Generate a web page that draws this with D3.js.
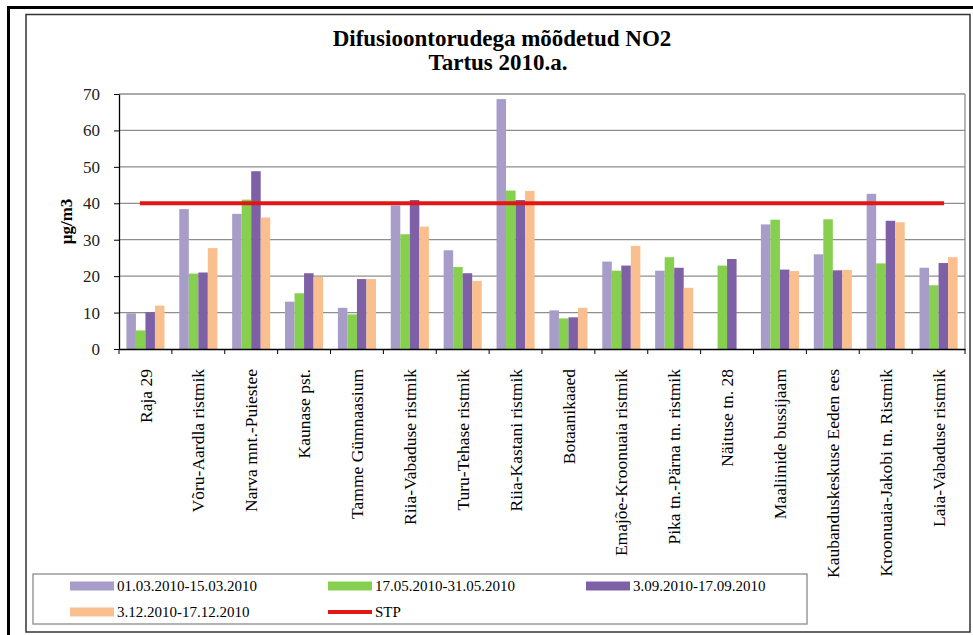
<!DOCTYPE html>
<meta charset="utf-8">
<style>
    body { margin: 0; background: #fff; }
    .grid line { stroke: #8e8e8e; stroke-width: 1.3px; }
    .xaxis path, .yaxis path { stroke: #000; stroke-width: 1.3px; }
    .xaxis line, .yaxis line { stroke: #000; }
</style>
<svg width="973" height="635"></svg>
<script src="https://d3js.org/d3.v7.min.js"></script>
<script>
    // measuring stations (x categories)
    var stations = ["Raja 29", "Võru-Aardla ristmik", "Narva mnt.-Puiestee", "Kaunase pst.",
        "Tamme Gümnaasium", "Riia-Vabaduse ristmik", "Turu-Tehase ristmik", "Riia-Kastani ristmik",
        "Botaanikaaed", "Emajõe-Kroonuaia ristmik", "Pika tn.-Pärna tn. ristmik", "Näituse tn. 28",
        "Maaliinide bussijaam", "Kaubanduskeskuse Eeden ees", "Kroonuaia-Jakobi tn. Ristmik", "Laia-Vabaduse ristmik"];

    var periods = ["01.03.2010-15.03.2010", "17.05.2010-31.05.2010", "3.09.2010-17.09.2010", "3.12.2010-17.12.2010"];

    // NO2 values, µg/m3 (null = not measured)
    var march = [9.8, 38.4, 37.1, 13.0, 11.3, 39.4, 27.1, 68.6, 10.6, 24.0, 21.5, null, 34.2, 26.0, 42.6, 22.3];
    var may   = [5.1, 20.7, 41.0, 15.3, 9.5, 31.5, 22.5, 43.5, 8.4, 21.5, 25.2, 22.9, 35.5, 35.6, 23.5, 17.5];
    var sept  = [10.1, 21.0, 48.8, 20.8, 19.2, 40.9, 20.8, 40.9, 8.7, 22.9, 22.3, 24.7, 21.8, 21.6, 35.2, 23.6];
    var dec   = [11.9, 27.7, 36.1, 19.8, 19.2, 33.6, 18.7, 43.4, 11.3, 28.3, 16.8, null, 21.4, 21.7, 34.8, 25.2];
    var stp   = [40, 40, 40, 40, 40, 40, 40, 40, 40, 40, 40, 40, 40, 40, 40, 40];

    var yTicks = [0, 10, 20, 30, 40, 50, 60, 70];
    var colours = ["#a89cc9", "#86cf4f", "#7d60a6", "#f9bf8f"];
    var stpColour = "#e31616";
    var serif = "'Liberation Serif', 'Times New Roman', serif";

    var series = [march, may, sept, dec];

    var svg = d3.select("svg");

    var plot = {left: 119, right: 965, top: 94, bottom: 349};

    // frames
    svg.append("rect")
        .attr("x", 8.5).attr("y", 7.5).attr("width", 980).attr("height", 640)
        .attr("fill", "none").attr("stroke", "#000").attr("stroke-width", 3);
    svg.append("rect")
        .attr("x", 26).attr("y", 14.5).attr("width", 944).attr("height", 617.5)
        .attr("fill", "#fff").attr("stroke", "#333").attr("stroke-width", 1.5);

    // title
    svg.append("text")
        .attr("x", 502).attr("y", 46)
        .attr("text-anchor", "middle")
        .style("font-family", serif)
        .style("font-size", "23px").style("font-weight", "bold")
        .text("Difusioontorudega mõõdetud NO2");
    svg.append("text")
        .attr("x", 498).attr("y", 70)
        .attr("text-anchor", "middle")
        .style("font-family", serif)
        .style("font-size", "23px").style("font-weight", "bold")
        .text("Tartus 2010.a.");

    var x0 = d3.scaleBand()
        .domain(stations)
        .range([plot.left, plot.right])
        .paddingInner(0.28)
        .paddingOuter(0.14);

    var x1 = d3.scaleBand()
        .domain(d3.range(periods.length))
        .range([0, x0.bandwidth()]);

    var xLine = d3.scalePoint()
        .domain(stations)
        .range([plot.left, plot.right])
        .padding(0.39);

    var y = d3.scaleLinear()
        .domain([0, 70])
        .range([plot.bottom, plot.top]);

    // grid
    svg.append("g")
        .attr("class", "grid")
        .selectAll("line")
        .data(yTicks.slice(1))
        .enter()
        .append("line")
        .attr("x1", plot.left).attr("x2", plot.right)
        .attr("y1", function (d) { return y(d); })
        .attr("y2", function (d) { return y(d); });

    svg.append("line")
        .attr("x1", plot.right).attr("x2", plot.right)
        .attr("y1", plot.top).attr("y2", plot.bottom)
        .attr("stroke", "#8e8e8e").attr("stroke-width", 1.3);

    // bars
    var groups = svg.append("g")
        .selectAll("g")
        .data(stations)
        .enter()
        .append("g")
        .attr("transform", function (d) { return "translate(" + x0(d) + ",0)"; });

    groups.selectAll("rect")
        .data(function (d, i) {
            return series.map(function (s, k) { return {k: k, v: s[i]}; })
                .filter(function (e) { return e.v != null; });
        })
        .enter()
        .append("rect")
        .attr("x", function (d) { return x1(d.k); })
        .attr("width", x1.bandwidth())
        .attr("y", function (d) { return y(d.v); })
        .attr("height", function (d) { return y(0) - y(d.v); })
        .attr("fill", function (d) { return colours[d.k]; });

    // STP line
    var line = d3.line()
        .x(function (d, i) { return xLine(stations[i]); })
        .y(function (d) { return y(d); });

    svg.append("path")
        .datum(stp)
        .attr("d", line)
        .attr("fill", "none")
        .attr("stroke", stpColour)
        .attr("stroke-width", 4);

    // axes
    var yAxis = svg.append("g")
        .attr("class", "yaxis")
        .attr("transform", "translate(" + plot.left + ",0)")
        .call(d3.axisLeft(y).tickValues(yTicks).tickSize(5).tickSizeOuter(0).tickPadding(14));
    yAxis.selectAll("text")
        .style("font-family", serif)
        .style("font-size", "17px")
        .attr("fill", "#222");

    var xAxis = svg.append("g")
        .attr("class", "xaxis")
        .attr("transform", "translate(0," + plot.bottom + ")")
        .call(d3.axisBottom(x0).tickSize(0).tickSizeOuter(0).tickFormat(""));

    // category boundary ticks
    xAxis.selectAll(".sep")
        .data(d3.range(stations.length + 1))
        .enter()
        .append("line")
        .attr("class", "sep")
        .attr("x1", function (d) { return plot.left + d * x0.step(); })
        .attr("x2", function (d) { return plot.left + d * x0.step(); })
        .attr("y1", 0).attr("y2", 5)
        .attr("stroke", "#000");

    svg.append("g")
        .selectAll("text")
        .data(stations)
        .enter()
        .append("text")
        .attr("transform", function (d) {
            return "translate(" + (x0(d) + x0.bandwidth() / 2) + "," + (plot.bottom + 20) + ") rotate(-90)";
        })
        .attr("text-anchor", "end")
        .attr("dy", "0.35em")
        .style("font-family", serif)
        .style("font-size", "17.5px")
        .text(function (d) { return d; });

    // y label
    svg.append("text")
        .attr("transform", "translate(66," + y(35) + ") rotate(-90)")
        .attr("text-anchor", "middle")
        .attr("dy", "0.35em")
        .style("font-family", serif)
        .style("font-size", "17px").style("font-weight", "bold")
        .text("µg/m3");

    // legend
    var legend = svg.append("g");
    legend.append("rect")
        .attr("x", 33).attr("y", 574).attr("width", 774).attr("height", 50)
        .attr("fill", "#fff").attr("stroke", "#9a9a9a").attr("stroke-width", 1.5);

    var legendItems = periods.map(function (p, k) { return {label: p, colour: colours[k], type: "bar"}; });
    legendItems.push({label: "STP", colour: stpColour, type: "line"});

    var colX = [70, 328, 586];
    var rowY = [586, 612];

    var item = legend.selectAll(".item")
        .data(legendItems)
        .enter()
        .append("g")
        .attr("class", "item")
        .attr("transform", function (d, i) {
            return "translate(" + colX[i % 3] + "," + rowY[Math.floor(i / 3)] + ")";
        });

    item.append("rect")
        .attr("x", 0)
        .attr("y", function (d) { return d.type === "bar" ? -4.5 : -2; })
        .attr("width", 44)
        .attr("height", function (d) { return d.type === "bar" ? 9 : 4; })
        .attr("fill", function (d) { return d.colour; });

    item.append("text")
        .attr("x", 47)
        .attr("dy", "0.35em")
        .style("font-family", serif)
        .style("font-size", "15px")
        .text(function (d) { return d.label; });
</script>
